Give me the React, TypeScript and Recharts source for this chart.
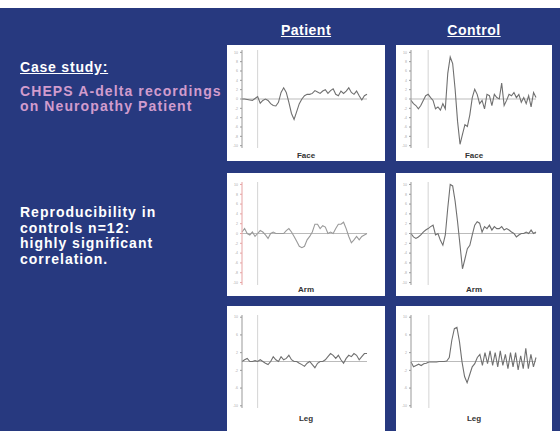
import { LineChart, Line, XAxis, YAxis, ReferenceLine } from 'recharts'

// traces, arbitrary units (µV-ish), even time steps
const patientFace = [0, 0, -0.1, -0.2, -0.3, 0.1, 0.5, -0.9, -0.3, 0, -0.3, -1.0, -1.4, -1.5, -0.7, 1.4, 2.4, 1.4, -0.7, -3.1, -4.4, -2.7, -1.0, 0, 0.7, 1.0, 1.0, 1.2, 1.8, 1.5, 1.2, 1.7, 2.0, 1.2, 1.8, 2.2, 1.0, 0.7, 1.7, 1.2, 1.7, 2.4, 1.4, 1.0, 1.7, 0.7, -0.2, 0.7, 1.0]
const controlFace = [-0.3, -1.0, -1.4, -2.1, -1.4, -0.3, 0.7, 1.0, 0.3, -0.3, -2.1, -1.7, -2.4, -1.0, -2.1, 5.5, 9.0, 7.6, 2.1, -4.8, -9.7, -7.6, -5.5, -5.9, -3.4, 0.3, 2.1, 1.0, -1.0, -0.3, -2.1, 1.0, 0.7, -1.4, 1.0, 0.3, 0, 3.4, -1.4, -0.3, 1.0, 0.7, 1.4, 0.3, 1.0, -0.7, 0.3, -1.0, 0.7, -1.7, 1.4, 0.3]
const patientArm = [0.3, 1.0, 0, -0.3, 0.3, -0.6, 0, 0.6, 0.3, -0.3, -1.0, 0, 0.3, 0, 0, 0, 0, 0.6, 1.0, 0.3, -0.6, -1.6, -2.6, -2.9, -2.6, -1.3, -0.6, 0.3, 1.9, 1.9, 1.0, 1.6, 1.3, 0, 0.3, 0, 1.0, 1.9, 1.9, 2.3, 1.0, -0.6, -1.9, -1.3, -0.6, -1.3, -0.6, -0.3, 0]
const controlArm = [0, -0.7, -1.0, -0.7, -0.3, 0.3, 0.7, 1.0, 1.4, 1.7, -0.3, 0, -1.4, -2.4, -0.3, 5.2, 10.0, 9.7, 6.6, 2.4, -2.4, -7.2, -5.2, -3.1, -2.4, -0.3, 1.7, 2.4, 2.1, 0.3, 1.4, 1.0, 1.7, 0.7, 1.4, 1.0, 1.0, 1.4, 0.7, 1.0, 0.7, 0.3, 0, -0.7, -0.3, 0, 0, 0.3, 0, 0.7, 0, 0.3]
const patientLeg = [0, 0.4, 0.7, 0, 0, 0.2, 0, 0.4, 0, -0.4, -0.7, 0, 1.1, 0.4, 0, 1.1, 0.4, 0.7, 1.4, 0.4, 0, 0, -0.4, -0.7, -1.1, -0.4, 0, -0.7, -1.4, -0.4, 0, 0, 0.4, 1.1, 1.8, 1.4, 0.7, 1.4, 0.4, -0.4, 0.7, 1.4, 1.1, 1.8, 1.4, 0.4, 1.1, 1.8, 1.8]
const controlLeg = [-0.1, -1.2, -0.9, -0.6, -0.9, -0.5, -0.4, -0.1, -0.1, -0.1, -0.1, 0, 0, 0, 0.1, 0.9, 4.8, 7.4, 7.7, 4.5, -0.1, -3.4, -4.8, -3.0, -1.2, -0.5, 0.9, 1.6, -0.9, 2.0, -0.5, 2.4, -0.9, 2.0, -1.2, 2.4, -0.9, 1.6, -1.6, 2.0, -1.2, 2.0, -1.9, 1.3, -1.6, 3.0, -1.6, 1.6, -1.2, 0.9]

const yTicks = [-10, -8, -6, -4, -2, 0, 2, 4, 6, 8, 10]
const columns = ['Patient', 'Control']
const sites = ['Face', 'Arm', 'Leg']
const stimulusAt = [6, 7]

const BLUE = '#27397f'
const font = '"Liberation Sans", Arial, sans-serif'

const rows = [
  { top: 45, h: 116, plotTop: 5, plotH: 98, labelY: 106 },
  { top: 173, h: 123, plotTop: 9, plotH: 103, labelY: 112 },
  { top: 306, h: 125, plotTop: 9, plotH: 93, labelY: 108 },
]
const cols = [
  { left: 227, w: 158 },
  { left: 396, w: 156 },
]

function Trace({ values, stim, axisColor, lineColor, h, top }: {
  values: number[]; stim: number; axisColor: string; lineColor: string; h: number; top: number
}) {
  const data = values.map((v, i) => ({ i, v }))
  return (
    <LineChart width={156} height={h + top + 2} data={data} margin={{ top, right: 16, bottom: 2, left: 0 }}>
      <XAxis dataKey="i" type="number" domain={[0, values.length - 1]} hide />
      <YAxis
        domain={[-10.5, 10.5]}
        ticks={yTicks}
        width={15}
        tickSize={2}
        tick={{ fontSize: 3.5, fill: '#aaa' }}
        stroke={axisColor}
        allowDataOverflow
      />
      <ReferenceLine y={0} stroke="#aaa" strokeWidth={0.8} />
      <ReferenceLine x={stim} stroke="#d4d4d4" strokeWidth={1} />
      <Line type="linear" dataKey="v" stroke={lineColor} strokeWidth={1.1} dot={false} isAnimationActive={false} />
    </LineChart>
  )
}

const traces = [
  [patientFace, controlFace],
  [patientArm, controlArm],
  [patientLeg, controlLeg],
]

export default function App() {
  return (
    <div style={{ position: 'absolute', left: 0, top: 0, width: 560, height: 431, background: '#fff', overflow: 'hidden', fontFamily: font }}>
      <div style={{ position: 'absolute', left: 0, top: 8, width: 560, height: 423, background: BLUE }} />
      {columns.map((c, ci) => (
        <div key={c} style={{
          position: 'absolute', left: cols[ci].left, width: cols[ci].w, top: 22, textAlign: 'center',
          color: '#fff', fontWeight: 'bold', fontSize: 14, letterSpacing: 0.5, textDecoration: 'underline',
        }}>{c}</div>
      ))}
      <div style={{ position: 'absolute', left: 20, top: 59, color: '#fff', fontWeight: 'bold', fontSize: 14, letterSpacing: 0.8, textDecoration: 'underline' }}>
        Case study:
      </div>
      <div style={{ position: 'absolute', left: 20, top: 84, color: '#d19ccd', fontWeight: 'bold', fontSize: 14, letterSpacing: 1.1, lineHeight: '15px', whiteSpace: 'nowrap' }}>
        CHEPS A-delta recordings<br />on Neuropathy Patient
      </div>
      <div style={{ position: 'absolute', left: 20, top: 205, color: '#fff', fontWeight: 'bold', fontSize: 14, letterSpacing: 1.0, lineHeight: '15.5px', whiteSpace: 'nowrap' }}>
        Reproducibility in<br />controls n=12:<br />highly significant<br />correlation.
      </div>
      {rows.map((r, ri) =>
        cols.map((c, ci) => (
          <div key={`${ri}-${ci}`} style={{ position: 'absolute', left: c.left, top: r.top, width: c.w, height: r.h, background: '#fff' }}>
            <Trace
              values={traces[ri][ci]}
              stim={stimulusAt[ci]}
              axisColor={ri === 1 && ci === 0 ? '#e6a3a3' : '#999'}
              lineColor={ri === 1 && ci === 0 ? '#9a9a9a' : '#707070'}
              h={r.plotH}
              top={r.plotTop}
            />
            <div style={{ position: 'absolute', left: 0, width: c.w, top: r.labelY, textAlign: 'center', fontSize: 8, fontWeight: 'bold', color: '#333' }}>
              {sites[ri]}
            </div>
          </div>
        ))
      )}
    </div>
  )
}
